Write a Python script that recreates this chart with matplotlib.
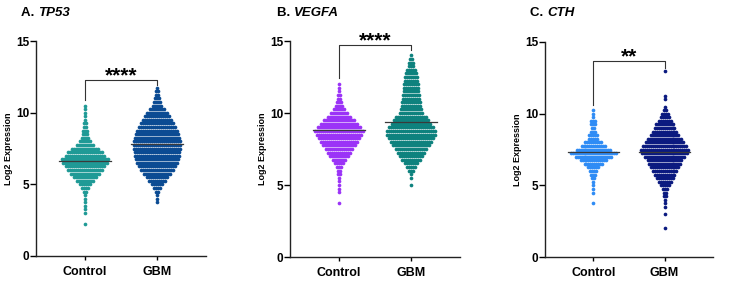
import matplotlib
matplotlib.use("Agg")
import matplotlib.pyplot as plt

plt.rcParams["font.family"] = ["Liberation Sans", "DejaVu Sans"]
plt.rcParams["font.weight"] = "bold"

# shared y bins (Log2 expression) for the swarm rows
LEVELS = [2.0, 2.25, 2.5, 2.75, 3.0, 3.25, 3.5, 3.75, 4.0, 4.25,
          4.5, 4.75, 5.0, 5.25, 5.5, 5.75, 6.0, 6.25, 6.5, 6.75,
          7.0, 7.25, 7.5, 7.75, 8.0, 8.25, 8.5, 8.75, 9.0, 9.25,
          9.5, 9.75, 10.0, 10.25, 10.5, 10.75, 11.0, 11.25, 11.5, 11.75,
          12.0, 12.25, 12.5, 12.75, 13.0, 13.25, 13.5, 13.75, 14.0]

CATEGORIES = ["Control", "GBM"]

# points per row
TP53_CTRL = [0, 1, 0, 0, 1, 1, 1, 1, 1, 1, 2, 4, 6, 9, 12, 15, 18, 20, 23, 24,
             20, 18, 14, 9, 6, 4, 3, 3, 2, 2, 1, 1, 1, 1, 1, 0, 0, 0, 0, 0,
             0, 0, 0, 0, 0, 0, 0, 0, 0]
TP53_GBM = [0, 0, 0, 0, 0, 0, 0, 1, 1, 1, 2, 4, 6, 9, 11, 14, 17, 19, 21, 22,
            23, 23, 24, 24, 24, 23, 22, 21, 19, 17, 15, 13, 11, 8, 5, 4, 3, 2, 2, 1,
            0, 0, 0, 0, 0, 0, 0, 0, 0]
VEGFA_CTRL = [0, 0, 0, 0, 0, 0, 0, 1, 0, 0, 1, 1, 1, 1, 1, 2, 2, 3, 5, 7,
              10, 12, 14, 17, 19, 21, 23, 25, 22, 19, 16, 12, 9, 6, 4, 3, 2, 2, 1, 1,
              1, 0, 0, 0, 0, 0, 0, 0, 0]
VEGFA_GBM = [0, 0, 0, 0, 0, 0, 0, 0, 0, 0, 0, 0, 1, 0, 1, 1, 3, 5, 7, 10,
             12, 14, 16, 19, 21, 23, 25, 25, 23, 20, 18, 16, 12, 11, 10, 10, 9, 9, 8, 8,
             8, 7, 7, 6, 5, 3, 3, 2, 1]
CTH_CTRL = [0, 0, 0, 0, 0, 0, 0, 1, 0, 0, 1, 1, 1, 1, 2, 3, 4, 6, 10, 14,
            19, 24, 18, 13, 9, 5, 5, 3, 2, 3, 3, 1, 1, 1, 0, 0, 0, 0, 0, 0,
            0, 0, 0, 0, 0, 0, 0, 0, 0]
CTH_GBM = [1, 0, 0, 0, 1, 0, 1, 1, 1, 2, 2, 3, 5, 7, 9, 11, 13, 15, 17, 18,
           21, 24, 25, 23, 20, 18, 15, 13, 11, 10, 7, 5, 4, 2, 1, 0, 1, 1, 0, 0,
           0, 0, 0, 0, 1, 0, 0, 0, 0]

MEDIANS = {"TP53": (6.6, 7.8), "VEGFA": (8.8, 9.4), "CTH": (7.3, 7.35)}
# bracket: left leg bottom, right leg bottom, top, label
BRACKETS = {"TP53": (10.9, 11.9, 12.3, "****"),
            "VEGFA": (12.4, 14.35, 14.7, "****"),
            "CTH": (10.6, 13.2, 13.65, "**")}

PANELS = [
    ("A. ", "TP53", TP53_CTRL, TP53_GBM, "#1f9a96", "#0b4b93",
     [36, 25, 170, 215], 21),
    ("B. ", "VEGFA", VEGFA_CTRL, VEGFA_GBM, "#9b33f7", "#0e827e",
     [290, 24, 170, 216], 277),
    ("C. ", "CTH", CTH_CTRL, CTH_GBM, "#2f8cf5", "#0b1a80",
     [545, 24, 168, 215], 530),
]

W, H = 750, 281
DX = 0.0278  # ~2 px between neighbours in a row


def swarm_xy(center, counts):
    xs, ys = [], []
    for lvl, n in zip(LEVELS, counts):
        for k in range(n):
            xs.append(center + (k - (n - 1) / 2) * DX)
            ys.append(lvl)
    return xs, ys


fig = plt.figure(figsize=(W / 100, H / 100), dpi=100)
renderer = fig.canvas.get_renderer()

for prefix, gene, ctrl, gbm, c_ctrl, c_gbm, box, title_x in PANELS:
    ax = fig.add_axes([box[0] / W, box[1] / H, box[2] / W, box[3] / H])

    for i, (counts, col) in enumerate(((ctrl, c_ctrl), (gbm, c_gbm))):
        xs, ys = swarm_xy(i, counts)
        ax.scatter(xs, ys, s=7, color=col, linewidths=0, zorder=2)
        m = MEDIANS[gene][i]
        ax.plot([i - 0.36, i + 0.36], [m, m], color="#3a3a3a", lw=0.9, zorder=3)

    lb, rb, top, stars = BRACKETS[gene]
    ax.plot([0, 0, 1, 1], [lb, top, top, rb], color="#333333", lw=0.8,
            clip_on=False, zorder=3)
    ax.text(0.5, top - 0.1, stars, ha="center", va="baseline", fontsize=15,
            fontweight="bold", clip_on=False)

    ax.set_xlim(-0.68, 1.68)
    ax.set_ylim(0, 15)
    ax.set_yticks([0, 5, 10, 15])
    ax.set_xticks([0, 1])
    ax.set_xticklabels(CATEGORIES, fontsize=9, fontweight="bold")
    ax.tick_params(axis="y", labelsize=8.5, length=4, width=1.0, pad=1)
    ax.tick_params(axis="x", length=3, width=1.0, pad=4)
    for t in ax.get_yticklabels():
        t.set_fontweight("bold")
    for side in ("top", "right"):
        ax.spines[side].set_visible(False)
    for side in ("left", "bottom"):
        ax.spines[side].set_linewidth(1.0)
        ax.spines[side].set_color("#222222")
    ax.set_ylabel("Log2 Expression", fontsize=6.5, fontweight="bold", labelpad=2)

    # title: bold prefix then bold italic gene name
    ty = 1 - 13 / H
    t1 = fig.text(title_x / W, ty, prefix, ha="left", va="center",
                  fontsize=9.5, fontweight="bold")
    bb = t1.get_window_extent(renderer)
    fig.text(bb.x1 / W, ty, gene, ha="left", va="center", fontsize=9.5,
             fontweight="bold", style="italic")

fig.savefig("out.png", dpi=100)
